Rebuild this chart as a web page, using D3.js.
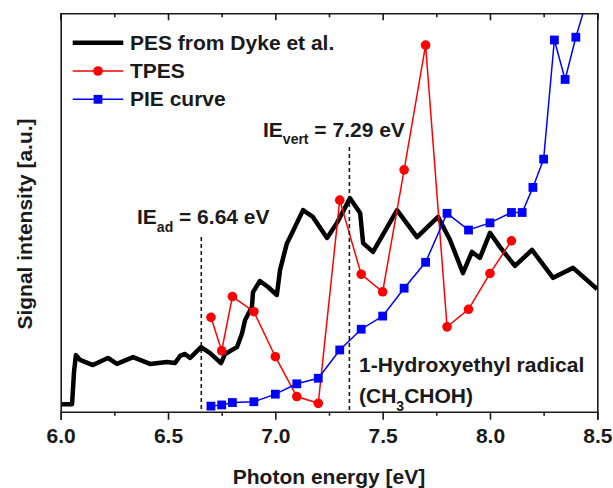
<!DOCTYPE html>
<html>
<head>
<meta charset="utf-8">
<script src="https://cdn.jsdelivr.net/npm/d3@7"></script>
<style>
  body { margin: 0; background: #fff; }
  text { font-family: "Liberation Sans", Arial, sans-serif; font-weight: bold; fill: #1a1a1a; }
</style>
</head>
<body>
<div id="chart"></div>
<script>
// photon energy [eV] and signal [a.u.]
const pesEnergy = [6.001, 6.053, 6.062, 6.071, 6.090, 6.150, 6.220, 6.262, 6.337, 6.416, 6.495, 6.533, 6.556, 6.579, 6.603, 6.654, 6.696, 6.747, 6.766, 6.821, 6.845, 6.859, 6.891, 6.896, 6.928, 6.966, 7.007, 7.022, 7.054, 7.073, 7.129, 7.175, 7.241, 7.287, 7.348, 7.395, 7.409, 7.455, 7.567, 7.660, 7.758, 7.814, 7.874, 7.916, 7.953, 8.000, 8.047, 8.116, 8.196, 8.294, 8.387, 8.499];
const pesSignal = [1.9, 1.9, 10.0, 14.2, 13.0, 11.7, 13.5, 12.0, 13.7, 12.0, 12.5, 12.2, 14.0, 14.5, 13.5, 16.2, 14.7, 12.2, 14.5, 16.2, 19.7, 23.0, 26.3, 30.0, 32.8, 31.3, 29.3, 35.6, 42.3, 44.3, 50.6, 48.9, 43.6, 47.4, 53.6, 49.9, 42.3, 40.1, 50.6, 43.8, 48.9, 43.1, 34.8, 40.1, 38.6, 44.9, 41.3, 36.6, 40.6, 33.6, 36.1, 30.8];

const tpesEnergy = [6.70, 6.75, 6.80, 6.90, 7.00, 7.10, 7.20, 7.30, 7.40, 7.50, 7.60, 7.70, 7.80, 7.90, 8.00, 8.10];
const tpesSignal = [23.7, 15.3, 28.9, 25.1, 13.8, 3.8, 2.1, 53.1, 34.5, 30.1, 60.7, 92.0, 21.3, 25.7, 34.7, 42.9];

const pieEnergy = [6.70, 6.75, 6.80, 6.90, 7.00, 7.10, 7.20, 7.30, 7.40, 7.50, 7.60, 7.70, 7.80, 7.90, 8.00, 8.10, 8.15, 8.20, 8.25, 8.30, 8.35, 8.40, 8.45];
const pieSignal = [1.4, 1.7, 2.3, 2.5, 4.4, 7.0, 8.4, 15.5, 20.7, 24.0, 31.0, 37.5, 49.8, 45.6, 47.4, 50.0, 50.0, 56.3, 63.4, 93.3, 83.4, 94.0, 103.0];

const majorTicks = [6.0, 6.5, 7.0, 7.5, 8.0, 8.5];
const minorTicks = [6.25, 6.75, 7.25, 7.75, 8.25];

const ieAd = 6.655;
const ieVert = 7.345;

const legendNames = ["PES from Dyke et al.", "TPES", "PIE curve"];
const legendColors = ["#000000", "#ff0000", "#0000ff"];

let svg = d3.select("#chart")
  .append("svg")
  .attr("width", 613)
  .attr("height", 488);

let x = d3.scaleLinear().domain([6.0, 8.5]).range([60.7, 597.3]);
let y = d3.scaleLinear().domain([0, 100]).range([411.7, 13.3]);

svg.append("clipPath")
  .attr("id", "plot-clip")
  .append("rect")
  .attr("x", x(6.0))
  .attr("y", y(100))
  .attr("width", x(8.5) - x(6.0))
  .attr("height", y(0) - y(100));

let zip = (xs, ys) => xs.map((v, i) => [v, ys[i]]);
let pes = zip(pesEnergy, pesSignal);
let tpes = zip(tpesEnergy, tpesSignal);
let pie = zip(pieEnergy, pieSignal);

let line = d3.line().x(d => x(d[0])).y(d => y(d[1]));

let plot = svg.append("g").attr("clip-path", "url(#plot-clip)");

// dashed markers for the ionisation energies
svg.append("line")
  .attr("x1", x(ieAd)).attr("x2", x(ieAd))
  .attr("y1", 237).attr("y2", y(0))
  .attr("stroke", "#1a1a1a")
  .attr("stroke-width", 1.6)
  .attr("stroke-dasharray", "4,3");

svg.append("line")
  .attr("x1", x(ieVert)).attr("x2", x(ieVert))
  .attr("y1", 147).attr("y2", y(0))
  .attr("stroke", "#1a1a1a")
  .attr("stroke-width", 1.6)
  .attr("stroke-dasharray", "4,3");

plot.append("path")
  .datum(pes)
  .attr("d", line)
  .attr("fill", "none")
  .attr("stroke", "#000")
  .attr("stroke-width", 4.5)
  .attr("stroke-linejoin", "round");

plot.append("path")
  .datum(tpes)
  .attr("d", line)
  .attr("fill", "none")
  .attr("stroke", "#ff0000")
  .attr("stroke-width", 1.5);

plot.selectAll("circle.tpes")
  .data(tpes)
  .enter()
  .append("circle")
  .attr("class", "tpes")
  .attr("cx", d => x(d[0]))
  .attr("cy", d => y(d[1]))
  .attr("r", 4.8)
  .attr("fill", "#ff0000");

plot.append("path")
  .datum(pie)
  .attr("d", line)
  .attr("fill", "none")
  .attr("stroke", "#0000ff")
  .attr("stroke-width", 1.5);

plot.selectAll("rect.pie")
  .data(pie)
  .enter()
  .append("rect")
  .attr("class", "pie")
  .attr("x", d => x(d[0]) - 4.4)
  .attr("y", d => y(d[1]) - 4.4)
  .attr("width", 8.8)
  .attr("height", 8.8)
  .attr("fill", "#0000ff");

// axes
let bottom = svg.append("g")
  .attr("transform", `translate(0,${y(0)})`)
  .call(d3.axisBottom(x).tickValues(majorTicks).tickSize(8).tickPadding(8).tickFormat(d3.format(".1f")));

svg.append("g")
  .attr("transform", `translate(0,${y(0)})`)
  .call(d3.axisBottom(x).tickValues(minorTicks).tickSize(4).tickFormat(""))
  .select(".domain").remove();

svg.append("g")
  .attr("transform", `translate(0,${y(100)})`)
  .call(d3.axisTop(x).tickValues(majorTicks).tickSize(-7).tickFormat(""));

svg.append("g")
  .attr("transform", `translate(0,${y(100)})`)
  .call(d3.axisTop(x).tickValues(minorTicks).tickSize(-4).tickFormat(""))
  .select(".domain").remove();

svg.append("g")
  .attr("transform", `translate(${x(6.0)},0)`)
  .call(d3.axisLeft(y).tickValues([]).tickSizeOuter(0));

svg.append("g")
  .attr("transform", `translate(${x(8.5)},0)`)
  .call(d3.axisRight(y).tickValues([]).tickSizeOuter(0));

svg.selectAll(".domain, .tick line")
  .attr("stroke", "#1a1a1a")
  .attr("stroke-width", 1.6);

bottom.selectAll(".tick text")
  .attr("font-family", "Liberation Sans, Arial, sans-serif")
  .attr("font-weight", "bold")
  .attr("font-size", 21)
  .attr("fill", "#1a1a1a");

svg.append("text")
  .attr("x", (x(6.0) + x(8.5)) / 2)
  .attr("y", 484)
  .attr("font-size", 21)
  .attr("text-anchor", "middle")
  .text("Photon energy [eV]");

svg.append("text")
  .attr("transform", "translate(32,224) rotate(-90)")
  .attr("font-size", 21)
  .attr("text-anchor", "middle")
  .text("Signal intensity [a.u.]");

// legend
let legend = svg.append("g");

legendNames.forEach((name, i) => {
  let ly = 42.7 + i * 28.3;
  let row = legend.append("g").attr("transform", `translate(0,${ly})`);
  row.append("line")
    .attr("x1", 72.7).attr("x2", 123.3)
    .attr("y1", 0).attr("y2", 0)
    .attr("stroke", legendColors[i])
    .attr("stroke-width", i === 0 ? 4.5 : 1.5);
  if (i === 1) {
    row.append("circle").attr("cx", 98).attr("cy", 0).attr("r", 4.8).attr("fill", legendColors[i]);
  }
  if (i === 2) {
    row.append("rect").attr("x", 93.6).attr("y", -4.4).attr("width", 8.8).attr("height", 8.8).attr("fill", legendColors[i]);
  }
  row.append("text")
    .attr("x", 130)
    .attr("y", 7)
    .attr("font-size", 21)
    .text(name);
});

// annotations
let ad = svg.append("text")
  .attr("x", 137)
  .attr("y", 224)
  .attr("font-size", 21);
ad.append("tspan").text("IE");
ad.append("tspan").attr("font-size", 14).attr("dy", 7.5).text("ad");
ad.append("tspan").attr("dy", -7.5).text(" = 6.64 eV");

let vert = svg.append("text")
  .attr("x", 263)
  .attr("y", 136.7)
  .attr("font-size", 21);
vert.append("tspan").text("IE");
vert.append("tspan").attr("font-size", 14).attr("dy", 7.5).text("vert");
vert.append("tspan").attr("dy", -7.5).text(" = 7.29 eV");

svg.append("text")
  .attr("x", 359)
  .attr("y", 371.7)
  .attr("font-size", 21)
  .text("1-Hydroxyethyl radical");

let formula = svg.append("text")
  .attr("x", 359)
  .attr("y", 403.3)
  .attr("font-size", 21);
formula.append("tspan").text("(CH");
formula.append("tspan").attr("font-size", 14).attr("dy", 7.5).text("3");
formula.append("tspan").attr("dy", -7.5).text("CHOH)");
</script>
</body>
</html>
